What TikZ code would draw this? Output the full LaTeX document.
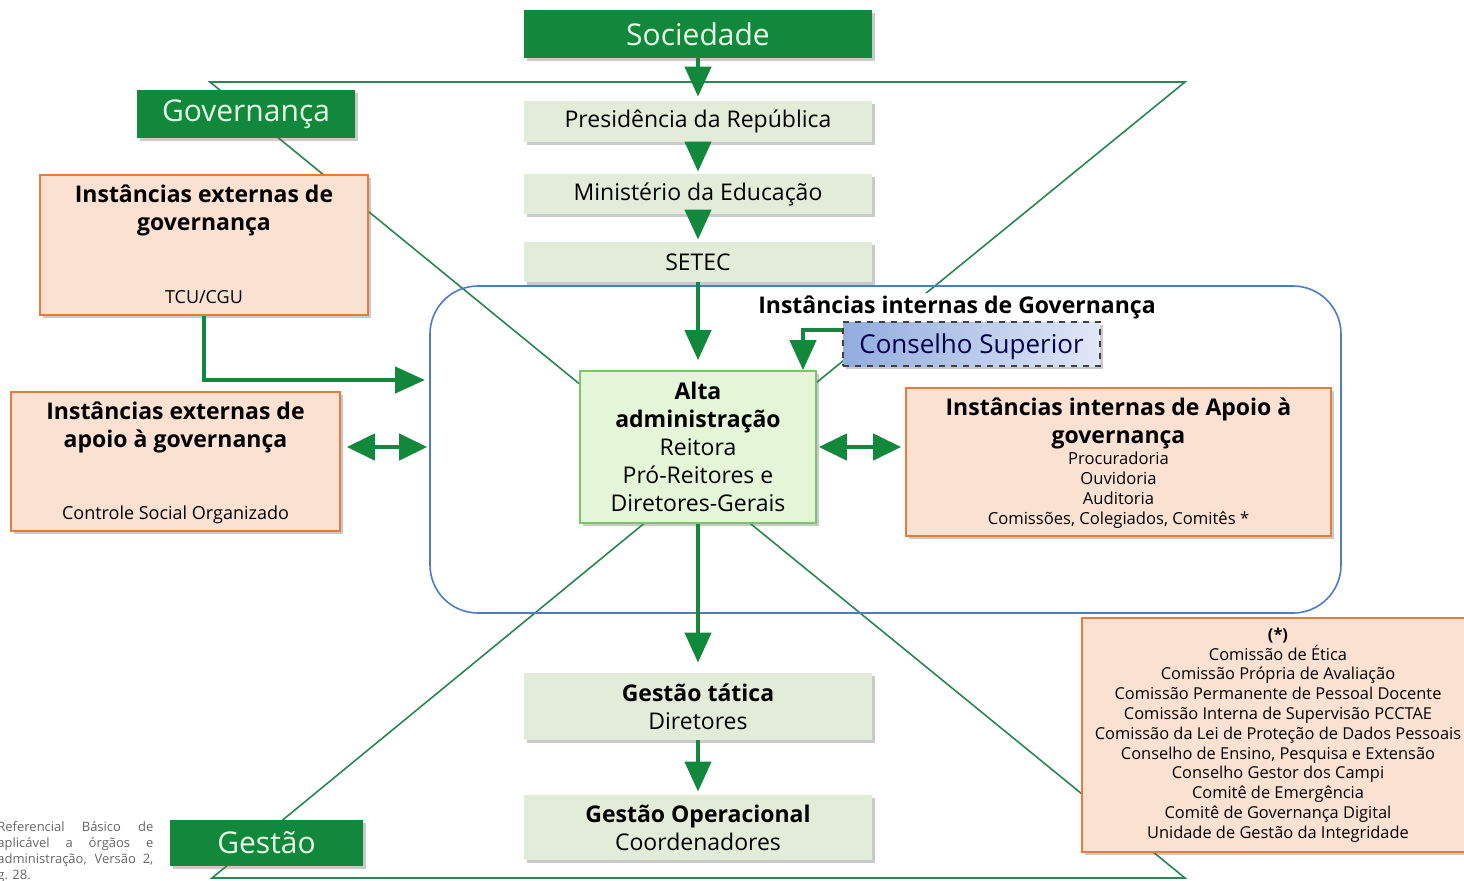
\documentclass[tikz,border=0pt]{standalone}
\usepackage{fontspec}
\setmainfont{Open Sans}
\usetikzlibrary{arrows.meta,shadows,positioning}
\definecolor{gdark}{RGB}{18,136,60}
\definecolor{gline}{RGB}{40,135,80}
\definecolor{gpale}{RGB}{226,236,217}
\definecolor{galta}{RGB}{228,245,216}
\definecolor{galtab}{RGB}{125,195,105}
\definecolor{orfill}{RGB}{251,225,210}
\definecolor{ordraw}{RGB}{225,125,65}
\definecolor{bframe}{RGB}{75,125,195}
\definecolor{bdark}{RGB}{145,172,222}
\definecolor{blight}{RGB}{225,232,246}
\tikzset{
	shad/.style={drop shadow={shadow xshift=1.5pt, shadow yshift=-1.5pt, opacity=0.35, fill=black!60}},
	darkbox/.style={fill=gdark, text=white!90!green, shad, font=\fontsize{15}{18}\selectfont, inner sep=0pt},
	palebox/.style={fill=gpale, shad, font=\fontsize{11.5}{14}\selectfont, align=center, inner sep=0pt, minimum width=174pt},
	orbox/.style={fill=orfill, draw=ordraw, line width=0.8pt, shad, align=center, inner sep=0pt},
	ttl/.style={font=\bfseries\fontsize{11.5}{14}\selectfont, align=center},
	sml/.style={font=\fontsize{8.3}{10}\selectfont, align=center},
	garr/.style={draw=gdark, line width=2.2pt, -{Triangle[width=13pt,length=15pt]}},
	gdbl/.style={draw=gdark, line width=2.2pt, {Triangle[width=13pt,length=14pt]}-{Triangle[width=13pt,length=14pt]}},
	tri/.style={draw=gline, line width=0.8pt}
}
\begin{document}
\begin{tikzpicture}[x=0.5pt, y=-0.5pt]
	\useasboundingbox (0,0) rectangle (1464,880);
	% governança / gestão
	\coordinate (apex) at (697,480);
	\draw[tri] (210,82) -- (1185,82) -- (apex) -- cycle;
	\draw[tri] (apex) -- (1185,878) -- (212,878) -- cycle;
	\node[draw=bframe, line width=0.8pt, rounded corners=24pt, minimum width=455.5pt, minimum height=163.5pt] (frame) at (885.5,449.5) {};
	\node[ttl, fill=white, inner sep=1.5pt] (frmttl) at (957,307.5) {Instâncias internas de Governança};

	\node[darkbox, minimum width=174pt, minimum height=24pt] (soc) at (698,34) {Sociedade};
	\node[darkbox, minimum width=109pt, minimum height=24pt] (gov) at (246,114) {Governança};
	\node[darkbox, minimum width=96.5pt, minimum height=23pt] (gest) at (266.5,843) {Gestão};

	\node[palebox, minimum height=20.5pt] (pres) at (698,121.5) {Presidência da República};
	\node[palebox, minimum height=20pt] (mec) at (698,194) {Ministério da Educação};
	\node[palebox, minimum height=20pt] (setec) at (698,262) {SETEC};
	\node[palebox, fill=galta, draw=galtab, line width=0.8pt, minimum width=118pt, minimum height=76pt] (alta) at (698,447) {\textbf{Alta}\\\textbf{administração}\\Reitora\\Pró-Reitores e\\Diretores-Gerais};
	\node[palebox, minimum height=33.5pt] (tat) at (698,706.5) {\textbf{Gestão tática}\\Diretores};
	\node[palebox, minimum height=32.5pt] (oper) at (698,827.5) {\textbf{Gestão Operacional}\\Coordenadores};
	\node[shad, left color=bdark, right color=blight, draw=black!75, dashed, line width=0.8pt, minimum width=128.5pt, minimum height=22pt, inner sep=0pt, text depth=0pt, font=\fontsize{13}{16}\selectfont, text=black!70!blue] (cons) at (971.5,344) {Conselho Superior};

	% instâncias
	\node[orbox, minimum width=164pt, minimum height=70pt] (extgov) at (204,245) {};
	\node[ttl, below=2pt of extgov.north] (extgovttl) {Instâncias externas de\\governança};
	\node[sml, font=\fontsize{9}{11}\selectfont, above=2.3pt of extgov.south] (tcu) {TCU/CGU};
	\node[orbox, minimum width=164.5pt, minimum height=69.5pt] (extsup) at (175.5,461.5) {};
	\node[ttl, below=2pt of extsup.north] (extsupttl) {Instâncias externas de\\apoio à governança};
	\node[sml, font=\fontsize{9}{11}\selectfont, above=0.5pt of extsup.south] (social) {Controle Social Organizado};
	\node[orbox, minimum width=212.5pt, minimum height=74pt] (intap) at (1118.5,462) {};
	\node[ttl, below=2pt of intap.north] (intapttl) {Instâncias internas de Apoio à\\governança};
	\node[sml, below=-6pt of intapttl] (intaplst) {Procuradoria\\Ouvidoria\\Auditoria\\Comissões, Colegiados, Comitês *};
	\node[orbox, minimum width=196pt, minimum height=117pt, font=\fontsize{8.2}{9.9}\selectfont] (ast) at (1278,735) {\textbf{(*)}\\Comissão de Ética\\Comissão Própria de Avaliação\\Comissão Permanente de Pessoal Docente\\Comissão Interna de Supervisão PCCTAE\\Comissão da Lei de Proteção de Dados Pessoais\\Conselho de Ensino, Pesquisa e Extensão\\Conselho Gestor dos Campi\\Comitê de Emergência\\Comitê de Governança Digital\\Unidade de Gestão da Integridade};

	% setas
	\draw[garr, shorten >=2pt] (soc) -- (pres);
	\draw[garr, shorten >=1pt] (pres) -- (mec);
	\draw[garr, shorten >=1pt] (mec) -- (setec);
	\draw[garr, shorten >=5pt] (setec) -- (alta);
	\draw[garr, shorten >=5pt] (alta) -- (tat);
	\draw[garr, shorten >=1.5pt] (tat) -- (oper);
	\draw[garr] ([yshift=7pt]cons.west) -| ([xshift=52.5pt]alta.north);
	\coordinate (tcuend) at (425,380);
	\draw[garr] (extgov.south) |- (tcuend);
	\draw[gdbl, shorten <=3pt, shorten >=1pt] (extsup.east |- alta.west) -- (frame.west |- alta.west);
	\draw[gdbl, shorten <=1pt, shorten >=2pt] (alta.east) -- (intap.west |- alta.east);

	\node[anchor=north west, inner sep=0pt, text=black!60, font=\fontsize{6.5}{8}\selectfont, align=left] (fonte) at (-3,821) {\makebox[78pt][s]{Referencial Básico de}\\\makebox[78pt][s]{aplicável a órgãos e}\\\makebox[78pt][s]{administração, Versão 2,}\\g. 28.};
\end{tikzpicture}
\end{document}
